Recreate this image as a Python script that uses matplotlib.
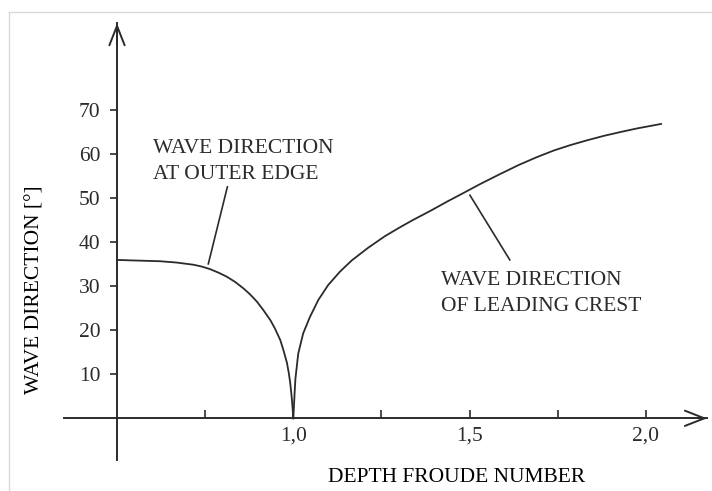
import matplotlib
matplotlib.use("Agg")
from matplotlib import pyplot as plt
from matplotlib.lines import Line2D

# wave direction vs depth Froude number
outer_x = [0.5, 0.537, 0.622, 0.669, 0.717, 0.740, 0.764, 0.788, 0.811, 0.835, 0.859,
           0.877, 0.897, 0.915, 0.935, 0.948, 0.963, 0.972, 0.982, 0.987, 0.991, 0.995,
           0.998, 1.0]
outer_y = [36.0, 35.9, 35.7, 35.4, 34.9, 34.5, 33.9, 33.1, 32.2, 31.0, 29.5,
           28.2, 26.5, 24.6, 22.3, 20.4, 17.8, 15.5, 12.6, 10.4, 8.2, 5.2,
           2.3, 0.0]

crest_x = [1.0, 1.002, 1.004, 1.006, 1.014, 1.028, 1.047, 1.071, 1.099, 1.132, 1.166,
           1.213, 1.260, 1.300, 1.340, 1.390, 1.435, 1.480, 1.529, 1.581, 1.640, 1.692,
           1.740, 1.786, 1.834, 1.881, 1.930, 1.976, 2.043]
crest_y = [0.0, 3.0, 6.2, 9.0, 14.7, 19.3, 23.0, 26.9, 30.3, 33.3, 35.9,
           38.8, 41.4, 43.3, 45.1, 47.2, 49.2, 51.1, 53.2, 55.3, 57.6, 59.4,
           60.9, 62.1, 63.2, 64.2, 65.1, 65.9, 66.9]

y_ticks = [10, 20, 30, 40, 50, 60, 70]
x_ticks = [0.75, 1.0, 1.25, 1.5, 1.75, 2.0]
x_tick_labels = ["", "1,0", "", "1,5", "", "2,0"]

ink = "#2b2b2b"
plt.rcParams["font.family"] = ["Liberation Serif", "DejaVu Serif"]
plt.rcParams["font.size"] = 15.5
plt.rcParams["text.color"] = ink

fig = plt.figure(figsize=(7.12, 4.91), dpi=100)
ax = fig.add_axes([0, 0, 1, 1])
ax.patch.set_alpha(0)
ax.set_xlim(0.16818, 2.18747)
ax.set_ylim(-16.52, 95.07)

# axes as spines through the origin (0.5, 0)
for s in ["top", "right"]:
    ax.spines[s].set_visible(False)
ax.spines["left"].set_position(("data", 0.5))
ax.spines["bottom"].set_position(("data", 0))
ax.spines["left"].set_bounds(-9.5, 89.8)
ax.spines["bottom"].set_bounds(0.3497, 2.1733)
for s in ["left", "bottom"]:
    ax.spines[s].set_linewidth(1.4)
    ax.spines[s].set_color(ink)

arrow = dict(arrowstyle="->,head_length=1.4,head_width=0.55", color=ink, lw=1.4,
             shrinkA=0, shrinkB=0, mutation_scale=10)
ax.annotate("", xy=(0.5, 89.8), xytext=(0.5, 85), arrowprops=arrow)
ax.annotate("", xy=(2.1733, 0), xytext=(2.15, 0), arrowprops=arrow)

ax.set_yticks(y_ticks)
ax.set_xticks(x_ticks)
ax.set_xticklabels(x_tick_labels)
ax.tick_params(axis="y", direction="out", length=5, width=1.2, pad=7, colors=ink)
ax.tick_params(axis="x", direction="in", length=5.8, width=1.2, pad=6, colors=ink)

ax.plot(outer_x, outer_y, color=ink, lw=1.3, solid_joinstyle="round")
ax.plot(crest_x, crest_y, color=ink, lw=1.3, solid_joinstyle="round")

# annotations
ax.text(0.601, 60.2, "WAVE DIRECTION", va="baseline", ha="left")
ax.text(0.601, 54.3, "AT OUTER EDGE", va="baseline", ha="left")
ax.plot([0.813, 0.759], [52.6, 35.1], color=ink, lw=1.2)

ax.text(1.418, 30.3, "WAVE DIRECTION", va="baseline", ha="left")
ax.text(1.418, 24.5, "OF LEADING CREST", va="baseline", ha="left")
ax.plot([1.501, 1.614], [50.7, 36.0], color=ink, lw=1.2)

ax.set_xlabel("DEPTH FROUDE NUMBER", va="center", ha="center")
ax.xaxis.set_label_coords(0.642, 0.0265)
ax.set_ylabel("WAVE DIRECTION [°]", va="center", ha="center")
ax.yaxis.set_label_coords(0.049, 0.409)

# light frame of the original picture
fig.add_artist(Line2D([0.0126, 1.0], [0.975, 0.975], color="#d9d9d9", lw=1))
fig.add_artist(Line2D([0.0126, 0.0126], [0.0, 0.975], color="#d9d9d9", lw=1))

fig.savefig("out.png", dpi=100)
